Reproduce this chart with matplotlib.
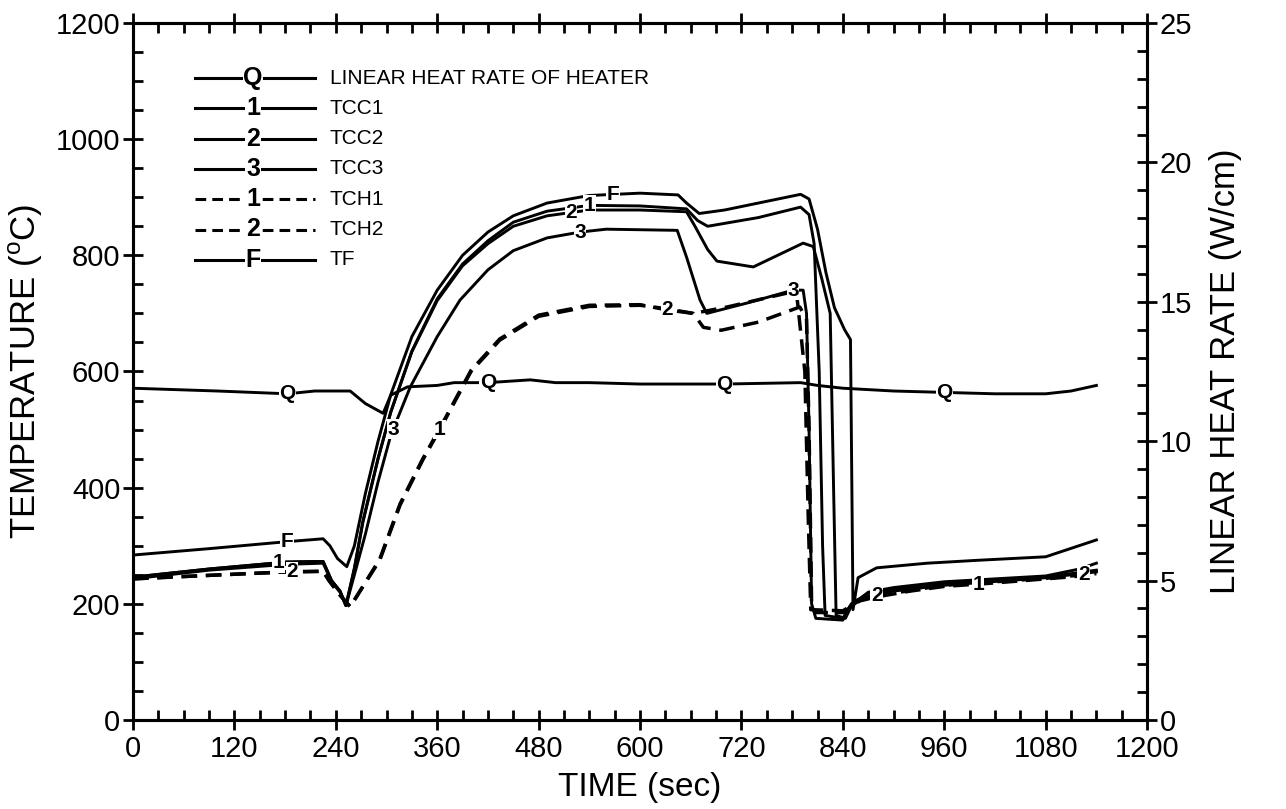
import numpy as np
import matplotlib
matplotlib.use('Agg')
import matplotlib.pyplot as plt
from matplotlib.ticker import MultipleLocator
from matplotlib.lines import Line2D

plt.rcParams['font.family'] = ['Liberation Sans', 'DejaVu Sans']
plt.rcParams['mathtext.fontset'] = 'custom'
plt.rcParams['mathtext.rm'] = 'Liberation Sans'

# linear heat rate of heater (W/cm)
t_q = [0, 100, 183, 215, 257, 275, 296, 305, 325, 360, 380, 420, 470, 500, 540, 600, 700, 790, 810, 840, 900, 960, 1020, 1080, 1110, 1140]
q = [11.9, 11.8, 11.7, 11.8, 11.8, 11.35, 11.0, 11.65, 11.95, 12.0, 12.1, 12.1, 12.2, 12.1, 12.1, 12.05, 12.05, 12.1, 12.0, 11.9, 11.8, 11.75, 11.7, 11.7, 11.8, 12.0]

# TF
t_f = [0, 90, 182, 225, 233, 242, 253, 262, 275, 290, 305, 330, 360, 390, 420, 450, 490, 540, 600, 645, 655, 670, 700, 740, 790, 800, 810, 820, 830, 842, 849, 852, 858, 880, 940, 1000, 1080, 1140]
temp_f = [284, 295, 307, 312, 300, 278, 264, 300, 390, 480, 560, 660, 740, 800, 840, 868, 890, 903, 907, 904, 890, 872, 878, 890, 905, 897, 845, 770, 710, 672, 655, 190, 245, 262, 270, 275, 281, 310]

# TCC1
t_c1 = [0, 90, 182, 225, 235, 245, 252, 262, 272, 290, 305, 330, 360, 390, 420, 450, 490, 540, 600, 655, 668, 680, 740, 790, 800, 806, 812, 816, 819, 840, 850, 870, 900, 960, 1020, 1080, 1140]
temp_c1 = [246, 260, 272, 273, 240, 222, 197, 260, 340, 450, 530, 635, 725, 785, 825, 857, 876, 886, 885, 880, 860, 850, 865, 883, 870, 820, 600, 300, 180, 175, 200, 218, 225, 235, 240, 246, 258]

# TCC2
t_c2 = [0, 90, 182, 225, 235, 245, 252, 262, 272, 290, 305, 330, 360, 390, 420, 450, 490, 540, 600, 655, 665, 680, 691, 734, 793, 805, 815, 825, 829, 832, 843, 853, 875, 900, 960, 1080, 1140]
temp_c2 = [246, 260, 272, 273, 240, 222, 197, 262, 342, 450, 530, 634, 722, 782, 820, 850, 868, 878, 878, 875, 850, 810, 790, 780, 821, 815, 760, 700, 400, 180, 175, 205, 215, 222, 232, 245, 255]

# TCC3
t_c3 = [0, 90, 182, 225, 235, 245, 252, 262, 275, 290, 305, 328, 360, 387, 420, 450, 490, 529, 560, 644, 655, 671, 679, 727, 781, 793, 797, 800, 803, 808, 840, 848, 870, 900, 960, 1080, 1120, 1140]
temp_c3 = [243, 258, 268, 270, 238, 220, 197, 250, 320, 410, 490, 573, 660, 723, 775, 808, 830, 840, 845, 843, 797, 723, 700, 718, 740, 740, 700, 500, 200, 175, 172, 195, 220, 228, 238, 248, 260, 270]

# TCH1
t_h1 = [0, 90, 182, 225, 232, 245, 257, 292, 316, 343, 363, 400, 434, 480, 540, 600, 632, 663, 675, 696, 740, 789, 797, 800, 803, 808, 840, 860, 880, 920, 960, 1020, 1080, 1140]
temp_h1 = [243, 249, 255, 256, 240, 215, 195, 275, 370, 448, 500, 600, 654, 695, 712, 714, 708, 700, 676, 671, 685, 711, 690, 500, 200, 185, 185, 205, 212, 222, 230, 236, 243, 250]

# TCH2
t_h2 = [0, 90, 182, 225, 232, 245, 257, 292, 316, 343, 363, 400, 434, 480, 540, 600, 632, 663, 703, 774, 785, 795, 799, 802, 840, 860, 880, 960, 1080, 1140]
temp_h2 = [243, 249, 255, 256, 240, 215, 195, 277, 372, 450, 502, 602, 656, 697, 714, 715, 706, 700, 711, 735, 738, 600, 350, 190, 188, 206, 214, 232, 244, 252]

fig = plt.figure(figsize=(12.86, 8.09), dpi=100)
ax = fig.add_axes([0.1034, 0.110, 0.7886, 0.8616])
ax2 = ax.twinx()

lw = 2.1
dash = (4.5, 2.5)
ax.plot(t_f, temp_f, color='black', lw=lw, zorder=3)
ax.plot(t_c1, temp_c1, color='black', lw=lw, zorder=3)
ax.plot(t_c2, temp_c2, color='black', lw=lw, zorder=3)
ax.plot(t_c3, temp_c3, color='black', lw=lw, zorder=3)
ax.plot(t_h1, temp_h1, color='black', lw=lw + 0.4, ls=(0, dash), zorder=3)
ax.plot(t_h2, temp_h2, color='black', lw=lw + 0.4, ls=(0, dash), zorder=3)
ax2.plot(t_q, q, color='black', lw=lw, zorder=3)


def tag(a, tx, ty, at, s):
    # label sitting on the curve
    y = np.interp(at, tx, ty)
    a.text(at, y, s, ha='center', va='center', fontsize=15, fontweight='bold',
           bbox=dict(facecolor='white', edgecolor='none', pad=0.3), zorder=5)


for at in [183, 420, 700, 960]:
    tag(ax2, t_q, q, at, 'Q')
tag(ax, t_f, temp_f, 182, 'F')
tag(ax, t_f, temp_f, 568, 'F')
tag(ax, t_c1, temp_c1, 172, '1')
tag(ax, t_c1, temp_c1, 540, '1')
tag(ax, t_c2, temp_c2, 518, '2')
tag(ax, t_c3, temp_c3, 308, '3')
tag(ax, t_c3, temp_c3, 529, '3')
tag(ax, t_c3, temp_c3, 781, '3')
tag(ax, t_h1, temp_h1, 363, '1')
tag(ax, t_h1, temp_h1, 1000, '1')
tag(ax, t_h2, temp_h2, 188, '2')
tag(ax, t_h2, temp_h2, 632, '2')
tag(ax, t_h2, temp_h2, 880, '2')
tag(ax, t_h2, temp_h2, 1125, '2')

ax.set_xlim(0, 1200)
ax.set_ylim(0, 1200)
ax2.set_ylim(0, 25)
ax.xaxis.set_major_locator(MultipleLocator(120))
ax.xaxis.set_minor_locator(MultipleLocator(30))
ax.yaxis.set_major_locator(MultipleLocator(200))
ax.yaxis.set_minor_locator(MultipleLocator(50))
ax2.yaxis.set_major_locator(MultipleLocator(5))
ax2.yaxis.set_minor_locator(MultipleLocator(1))

ax.tick_params(axis='x', which='major', direction='inout', length=14, width=2, top=True, labelsize=21, pad=4)
ax.tick_params(axis='x', which='minor', direction='in', length=7, width=2, top=True)
ax.tick_params(axis='y', which='major', direction='inout', length=14, width=2, right=False, labelsize=21, pad=2)
ax.tick_params(axis='y', which='minor', direction='in', length=7, width=2, right=False)
ax2.tick_params(axis='y', which='major', direction='inout', length=14, width=2, labelsize=21, pad=2)
ax2.tick_params(axis='y', which='minor', direction='in', length=7, width=2)
# lift the right-hand 0 so it clears the 1200 below it
ax2.get_yticklabels()[0].set_verticalalignment('bottom')
for a in (ax, ax2):
    for s in a.spines.values():
        s.set_linewidth(2.2)

ax.set_xlabel('TIME (sec)', fontsize=24, labelpad=6)
ax.set_ylabel(r'TEMPERATURE ($^{\mathrm{o}}$C)', fontsize=25, labelpad=8)
ax2.set_ylabel('LINEAR HEAT RATE (W/cm)', fontsize=25, labelpad=12)

# legend drawn by hand
leg_marks = ['Q', '1', '2', '3', '1', '2', 'F']
leg_names = ['LINEAR HEAT RATE OF HEATER', 'TCC1', 'TCC2', 'TCC3', 'TCH1', 'TCH2', 'TF']
leg_styles = ['-', '-', '-', '-', '--', '--', '-']
W, H = 1286.0, 809.0
for i in range(len(leg_marks)):
    yy = 1 - (78 + i * 30.3) / H
    ls = '-' if leg_styles[i] == '-' else (0, (3.5, 2))
    fig.add_artist(Line2D([195 / W, 315 / W], [yy, yy], color='black', lw=2.2, ls=ls))
    fig.text(253 / W, yy, leg_marks[i], ha='center', va='center', fontsize=18, fontweight='bold',
             bbox=dict(facecolor='white', edgecolor='none', pad=0.5))
    fig.text(330 / W, yy, leg_names[i], ha='left', va='center', fontsize=15)

fig.savefig('out.png', dpi=100)
